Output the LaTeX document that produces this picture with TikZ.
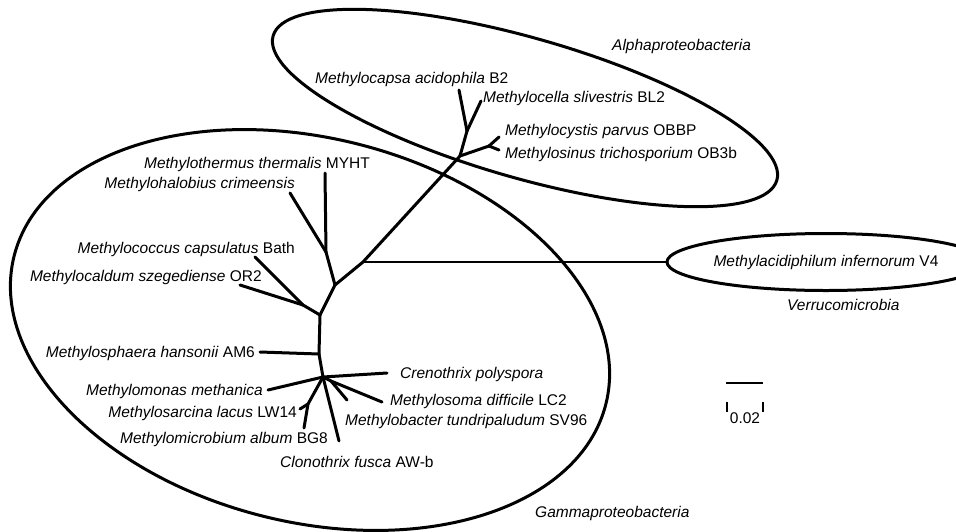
\documentclass[tikz,border=0pt]{standalone}
\usepackage{fontspec}
\setmainfont{Liberation Sans}
\usetikzlibrary{shapes.geometric}
\tikzset{%
  branch/.style={line width=3pt, line cap=round},
  clade/.style={line width=3pt},
  taxon/.style={inner sep=0pt, font=\fontsize{15.5}{18}\selectfont},
  scalebar/.style={line width=2pt}
}

\begin{document}
\begin{tikzpicture}[x=1pt,y=-1pt]
\useasboundingbox (0,0) rectangle (956,531);
% clade outlines
\draw[clade, rotate around={-16:(525,108)}] (525,108) ellipse (262 and 70);
\draw[clade, rotate around={-14:(310,330)}] (310,330) ellipse (305 and 192);
\node[taxon, ellipse, draw, clade, minimum width=258pt, minimum height=57pt] (verr) at (826,262) {\textit{Methylacidiphilum infernorum} V4};
% inner nodes and tips
\coordinate (nV) at (363,262);
\coordinate (nA) at (460,156);
\coordinate (nA1) at (467,131);
\coordinate (nA2) at (489,146);
\coordinate (tCapsa) at (459,90);
\coordinate (tCella) at (481,101);
\coordinate (tCystis) at (499,137);
\coordinate (tSinus) at (499,150);
\coordinate (nG1) at (335,285);
\coordinate (nG2) at (326,252);
\coordinate (tTherm) at (325,173);
\coordinate (tHalo) at (290,193);
\coordinate (nC) at (320,315);
\coordinate (nC1) at (303,305);
\coordinate (tCoccus) at (255,257);
\coordinate (tCaldum) at (240,285);
\coordinate (nS) at (319,354);
\coordinate (tSphaera) at (260,352);
\coordinate (nG) at (323,377);
\coordinate (tCreno) at (387,373);
\coordinate (tMonas) at (268,390);
\coordinate (nSar) at (308,404);
\coordinate (tSarcina) at (300,409);
\coordinate (tMicro) at (304,428);
\coordinate (tClono) at (339,441);
\coordinate (nB) at (331,381);
\coordinate (tBacter) at (347,400);
\coordinate (tSoma) at (382,402);
% tree
\foreach \a/\b in {nV/nA, nA/nA1, nA1/tCapsa, nA1/tCella, nA/nA2, nA2/tCystis, nA2/tSinus,
  nV/nG1, nG1/nG2, nG2/tTherm, nG2/tHalo, nG1/nC, nC/nC1, nC1/tCoccus, nC1/tCaldum,
  nC/nS, nS/tSphaera, nS/nG, nG/tCreno, nG/tMonas, nG/nSar, nSar/tSarcina, nSar/tMicro,
  nG/tClono, nG/nB, nB/tBacter, nB/tSoma}
  \draw[branch] (\a) -- (\b);
\draw[branch, line width=2.2pt] (nV) -- (verr.west);
% labels
\node[taxon, anchor=base west] (alpha) at (612,50) {\textit{Alphaproteobacteria}};
\node[taxon, anchor=base west] (gamma) at (535,517) {\textit{Gammaproteobacteria}};
\node[taxon, anchor=base west] (verruco) at (787,310) {\textit{Verrucomicrobia}};
\node[taxon, anchor=base west] (lCapsa) at (315,83) {\textit{Methylocapsa acidophila} B2};
\node[taxon, anchor=base west] (lCella) at (483,102) {\textit{Methylocella slivestris} BL2};
\node[taxon, anchor=base west] (lCystis) at (505,135) {\textit{Methylocystis parvus} OBBP};
\node[taxon, anchor=base west] (lSinus) at (505,158) {\textit{Methylosinus trichosporium} OB3b};
\node[taxon, anchor=base east] (lTherm) at (370,168) {\textit{Methylothermus thermalis} MYHT};
\node[taxon, anchor=base east] (lHalo) at (295,188) {\textit{Methylohalobius crimeensis}};
\node[taxon, anchor=base east] (lCoccus) at (295,253) {\textit{Methylococcus capsulatus} Bath};
\node[taxon, anchor=base east] (lCaldum) at (262,281) {\textit{Methylocaldum szegediense} OR2};
\node[taxon, anchor=base east] (lSphaera) at (255,357) {\textit{Methylosphaera hansonii} AM6};
\node[taxon, anchor=base east] (lMonas) at (263,395) {\textit{Methylomonas methanica}};
\node[taxon, anchor=base east] (lSarcina) at (297,417) {\textit{Methylosarcina lacus} LW14};
\node[taxon, anchor=base east] (lMicro) at (328,443) {\textit{Methylomicrobium album} BG8};
\node[taxon, anchor=base west] (lClono) at (280,467) {\textit{Clonothrix fusca} AW-b};
\node[taxon, anchor=base west] (lCreno) at (400,378) {\textit{Crenothrix polyspora}};
\node[taxon, anchor=base west] (lSoma) at (390,405) {\textit{Methylosoma difficile} LC2};
\node[taxon, anchor=base west] (lBacter) at (345,425) {\textit{Methylobacter tundripaludum} SV96};
% scale bar
\coordinate (sL) at (726,383);
\coordinate (sR) at (763,383);
\draw[scalebar] (sL) -- (sR);
\foreach \x in {727,763} \draw[scalebar] (\x,402) -- (\x,412);
\node[taxon] (scale) at (745,418) {0.02};
\end{tikzpicture}
\end{document}
